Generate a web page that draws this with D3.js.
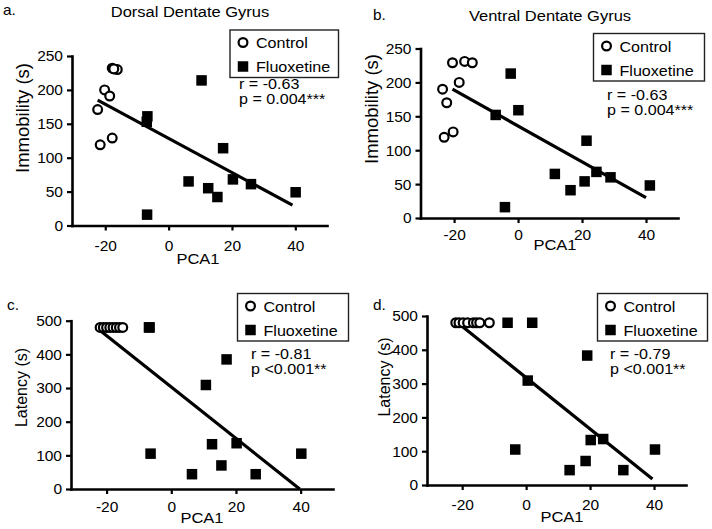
<!DOCTYPE html>
<html><head><meta charset="utf-8">
<script src="https://cdn.jsdelivr.net/npm/d3@7"></script>
<style>
body{margin:0;background:#fff}
svg{display:block}
text{font-family:"Liberation Sans",Arial,Helvetica,sans-serif;fill:#000}
</style>
</head><body>
<svg id="chart" width="712" height="529"></svg>
<script>
// ---------------- DATA ----------------
const seriesNames = ["Control", "Fluoxetine"];
const xTicks = [-20, 0, 20, 40];
const yTicksImm = [0, 50, 100, 150, 200, 250];
const yTicksLat = [0, 100, 200, 300, 400, 500];
const panelLetters = ["a.", "b.", "c.", "d."];
const panelTitles = ["Dorsal Dentate Gyrus", "Ventral Dentate Gyrus", "", ""];
const yLabels = ["Immobility (s)", "Immobility (s)", "Latency (s)", "Latency (s)"];
const xLabel = "PCA1";
const statR = ["r = -0.63", "r = -0.63", "r = -0.81", "r = -0.79"];
const statP = ["p = 0.004***", "p = 0.004***", "p <0.001**", "p <0.001**"];

// a. Dorsal DG – Immobility
const ctrlX_a = [-17.8, -16.2, -17.3, -20.2, -18.6, -22.4, -21.6, -17.8];
const ctrlY_a = [232, 230, 231, 200, 191, 171, 119, 129];
const fluoX_a = [10.4, -6.7, -6.9, 17.2, 6.3, 12.5, 15.4, 20.3, 26, 40.1, -6.8];
const fluoY_a = [214, 161, 153, 114, 65, 55, 42, 68, 61, 49, 16];
const fitX_a = [-22.4, 39.1];
const fitY_a = [185, 30];

// b. Ventral DG – Immobility
const ctrlX_b = [-20.5, -16.7, -14.3, -18.4, -23.6, -22.3, -23.1, -20.3];
const ctrlY_b = [229, 231, 229, 200, 190, 170, 119, 127];
const fluoX_b = [-2.3, 0.1, -7, 21.4, 11.5, 16.4, 20.8, 24.5, 28.9, 41.2, -4.1];
const fluoY_b = [213, 159, 152, 114, 65, 41, 54, 68, 60, 48, 16];
const fitX_b = [-20.5, 40];
const fitY_b = [190, 30];

// c. Dorsal – Latency
const ctrlX_c = [-22, -21, -20, -19, -18, -17, -16, -15];
const ctrlY_c = [480, 480, 480, 480, 480, 480, 480, 480];
const fluoX_c = [-6.7, -6.9, 17.1, 10.7, -6.4, 12.6, 20.2, 15.5, 6.4, 26.1, 40.2];
const fluoY_c = [480, 480, 385, 309, 105, 133, 136, 70, 44, 44, 105];
const fitX_c = [-22.3, 39.7];
const fitY_c = [473, 0];

// d. Ventral – Latency
const ctrlX_d = [-22, -21, -19.7, -18.3, -16.5, -15.5, -14.5, -11.5];
const ctrlY_d = [480, 480, 480, 480, 480, 480, 480, 480];
const fluoX_d = [-5.8, 1.9, 19.1, 0.5, -3.4, 20.2, 24.1, 18.6, 13.6, 30.4, 40.3];
const fluoY_d = [480, 480, 383, 309, 105, 133, 136, 71, 44, 44, 105];
const fitX_d = [-21.8, 39.5];
const fitY_d = [483, 18];

// ---------------- LAYOUT ----------------
const panels = [
  {ctrlX: ctrlX_a, ctrlY: ctrlY_a, fluoX: fluoX_a, fluoY: fluoY_a, fitX: fitX_a, fitY: fitY_a,
   yTicks: yTicksImm, xDom: [-30.5, 50], xR: [72, 327], yDom: [0, 250], yR: [225.5, 56],
   letter: [3, 15], title: [190, 17], legend: [230, 30, 108.5], stat: [239, 89, 104],
   yLab: [29, 118, 18.5], xLab: [198, 264], xTickOff: 25},
  {ctrlX: ctrlX_b, ctrlY: ctrlY_b, fluoX: fluoX_b, fluoY: fluoY_b, fitX: fitX_b, fitY: fitY_b,
   yTicks: yTicksImm, xDom: [-30.5, 50], xR: [420.5, 678], yDom: [0, 250], yR: [218, 48.5],
   letter: [373, 20], title: [550, 21], legend: [593.5, 33.5, 111], stat: [607, 100, 115],
   yLab: [378, 109, 18.5], xLab: [555, 250], xTickOff: 22},
  {ctrlX: ctrlX_c, ctrlY: ctrlY_c, fluoX: fluoX_c, fluoY: fluoY_c, fitX: fitX_c, fitY: fitY_c,
   yTicks: yTicksLat, xDom: [-31, 50], xR: [71, 333], yDom: [0, 500], yR: [489, 320.7],
   letter: [7, 310], title: null, legend: [237.5, 293.5, 111], stat: [251, 359, 374],
   yLab: [27, 387.5, 16], xLab: [202, 523], xTickOff: 22.7},
  {ctrlX: ctrlX_d, ctrlY: ctrlY_d, fluoX: fluoX_d, fluoY: fluoY_d, fitX: fitX_d, fitY: fitY_d,
   yTicks: yTicksLat, xDom: [-31, 50], xR: [427, 686], yDom: [0, 500], yR: [485, 316],
   letter: [373, 310], title: null, legend: [597.5, 293.5, 110], stat: [610, 359, 374],
   yLab: [390, 377, 16], xLab: [562, 521.5], xTickOff: 25}
];

const svg = d3.select("#chart");

// text slightly widened horizontally, as in the reference picture
function wideText(g, x, y, str, size, sx, anchor) {
  return g.append("text")
    .attr("transform", `translate(${x},${y}) scale(${sx},1)`)
    .attr("text-anchor", anchor || "start")
    .style("font-size", size + "px").text(str);
}

panels.forEach((p, i) => {
  const g = svg.append("g");
  const x = d3.scaleLinear().domain(p.xDom).range(p.xR);
  const y = d3.scaleLinear().domain(p.yDom).range(p.yR);

  // regression line
  g.append("line")
    .attr("x1", x(p.fitX[0])).attr("y1", y(p.fitY[0]))
    .attr("x2", x(p.fitX[1])).attr("y2", y(p.fitY[1]))
    .attr("stroke", "#000").attr("stroke-width", 3.2);

  // axes
  const yAxis = d3.axisLeft(y).tickValues(p.yTicks).tickSize(5).tickSizeOuter(0)
    .tickPadding(4).tickFormat(d => String(d));
  const ya = g.append("g").attr("transform", `translate(${p.xR[0]},0)`).call(yAxis);
  const xAxis = d3.axisBottom(x).tickValues(xTicks).tickSize(5).tickSizeOuter(0)
    .tickFormat(d => String(d));
  const xa = g.append("g").attr("transform", `translate(0,${p.yR[0]})`).call(xAxis);
  xa.selectAll(".tick text").attr("y", p.xTickOff).attr("dy", 0);

  [ya, xa].forEach(a => {
    a.attr("font-family", null).attr("font-size", null);
    a.select(".domain").attr("stroke", "#000").attr("stroke-width", 2.6).attr("stroke-linecap", "square");
    a.selectAll(".tick line").attr("stroke", "#000").attr("stroke-width", 2.2);
    a.selectAll(".tick text").style("font-size", "15.5px").attr("fill", "#000");
  });

  // points: control (open circles)
  g.selectAll("circle.ctrl").data(d3.range(p.ctrlX.length)).join("circle")
    .attr("class", "ctrl")
    .attr("cx", k => x(p.ctrlX[k])).attr("cy", k => y(p.ctrlY[k]))
    .attr("r", 4.4).attr("fill", "#fff").attr("stroke", "#000").attr("stroke-width", 2.2);
  // fluoxetine (filled squares)
  const s = 10.5;
  g.selectAll("rect.fluo").data(d3.range(p.fluoX.length)).join("rect")
    .attr("class", "fluo")
    .attr("x", k => x(p.fluoX[k]) - s / 2).attr("y", k => y(p.fluoY[k]) - s / 2)
    .attr("width", s).attr("height", s).attr("fill", "#000");

  // legend
  const [lx, ly, lw] = p.legend;
  g.append("rect").attr("x", lx).attr("y", ly).attr("width", lw).attr("height", 47.5)
    .attr("fill", "#fff").attr("stroke", "#222").attr("stroke-width", 1.4);
  g.append("circle").attr("cx", lx + 13).attr("cy", ly + 12.5).attr("r", 4.4)
    .attr("fill", "#fff").attr("stroke", "#000").attr("stroke-width", 2.2);
  g.append("rect").attr("x", lx + 13 - s / 2).attr("y", ly + 36.5 - s / 2)
    .attr("width", s).attr("height", s).attr("fill", "#000");
  wideText(g, lx + 26, ly + 18, seriesNames[0], 14, 1.15);
  wideText(g, lx + 26, ly + 42, seriesNames[1], 14, 1.15);

  // stats
  wideText(g, p.stat[0], p.stat[1], statR[i], 14, 1.15);
  wideText(g, p.stat[0], p.stat[2], statP[i], 14, 1.15);

  // panel letter & title
  wideText(g, p.letter[0], p.letter[1], panelLetters[i], 14, 1.1);
  if (p.title) {
    wideText(g, p.title[0], p.title[1], panelTitles[i], 15, 1.1, "middle");
  }

  // axis labels
  g.append("text").attr("transform", `translate(${p.yLab[0]},${p.yLab[1]}) rotate(-90)`)
    .attr("text-anchor", "middle").style("font-size", p.yLab[2] + "px").text(yLabels[i]);
  wideText(g, p.xLab[0], p.xLab[1], xLabel, 15, 1.1, "middle");
});
</script>
</body></html>
